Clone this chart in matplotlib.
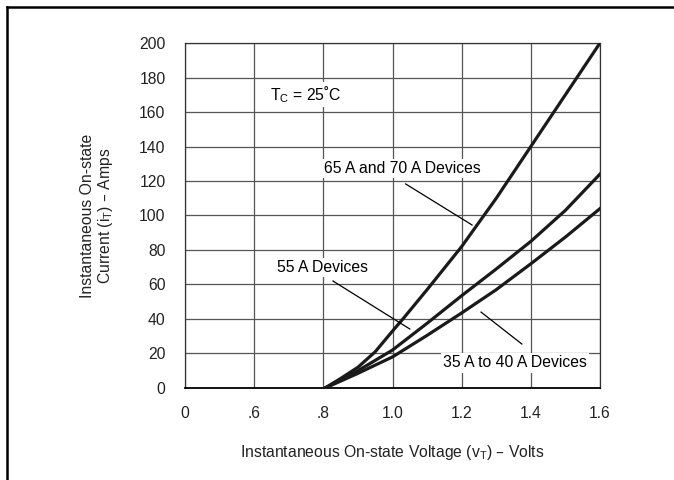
import matplotlib
matplotlib.use("Agg")
import matplotlib.pyplot as plt
import numpy as np

plt.rcParams['font.family'] = ['Liberation Sans', 'DejaVu Sans']

# on-state voltage (V) and current (A)
v_65_70 = [0.805, 0.85, 0.9, 0.95, 1.0, 1.03, 1.1, 1.2, 1.3, 1.4, 1.5, 1.6]
i_65_70 = [0, 5.5, 12, 21, 33, 40, 57, 82, 110, 140, 170, 200]
v_55 = [0.805, 0.85, 0.9, 1.0, 1.1, 1.2, 1.3, 1.4, 1.5, 1.6]
i_55 = [0, 4.5, 10, 22, 37.5, 53.5, 69, 85, 103, 124]
v_35_40 = [0.805, 0.85, 0.9, 1.0, 1.1, 1.2, 1.3, 1.4, 1.5, 1.6]
i_35_40 = [0, 4, 8.5, 18, 30.5, 43.5, 57, 72, 87.5, 104]

x_ticks = [0, 0.6, 0.8, 1.0, 1.2, 1.4, 1.6]
x_ticklabels = ['0', '.6', '.8', '1.0', '1.2', '1.4', '1.6']
y_ticks = list(range(0, 201, 20))


# broken axis: 0 -> .6 takes the same width as one .2 step
def fwd(v):
    v = np.asarray(v, dtype=float)
    return np.where(v < 0.6, v / 0.6, (v - 0.4) / 0.2)


def inv(p):
    p = np.asarray(p, dtype=float)
    return np.where(p < 1, p * 0.6, 0.2 * p + 0.4)


fs = 11.3
fig = plt.figure(figsize=(6.74, 4.8), dpi=100)
ax = fig.add_axes([0.2745, 0.1917, 0.6157, 0.7187])
ax.set_xscale('function', functions=(fwd, inv))

for xs, ys in ((v_65_70, i_65_70), (v_55, i_55), (v_35_40, i_35_40)):
    ax.plot(xs, ys, color='#1a1a1a', lw=2.3, solid_joinstyle='round', zorder=3)

ax.set_xlim(0, 1.6)
ax.set_ylim(0, 200)
ax.set_xticks(x_ticks)
ax.set_xticklabels(x_ticklabels)
ax.set_yticks(y_ticks)
ax.tick_params(length=0, labelsize=fs, colors='#222222')
ax.tick_params(axis='x', pad=13)
ax.tick_params(axis='y', pad=14)
ax.grid(True, color='#555555', lw=0.9)
for s in ax.spines.values():
    s.set_color('#333333')
    s.set_linewidth(0.9)
ax.spines['bottom'].set_color('#000000')
ax.spines['bottom'].set_linewidth(1.3)

box = dict(facecolor='white', edgecolor='none', pad=1.5)
ax.text(0.748, 170, r'T$_\mathregular{C}$ = 25˚C', fontsize=fs, ha='center', va='center', bbox=box, zorder=4)
ax.text(1.028, 127.5, '65 A and 70 A Devices', fontsize=fs, ha='center', va='center', bbox=box, zorder=4)
ax.text(0.798, 69.6, '55 A Devices', fontsize=fs, ha='center', va='center', bbox=box, zorder=4)
ax.text(1.354, 14.5, '35 A to 40 A Devices', fontsize=fs, ha='center', va='center', bbox=box, zorder=4)

ax.plot([1.038, 1.23], [118.3, 94.5], color='black', lw=0.9, zorder=5)
ax.plot([0.828, 1.05], [62, 34.2], color='black', lw=0.9, zorder=5)
ax.plot([1.256, 1.374], [44, 25.5], color='black', lw=0.9, zorder=5)

ax.set_xlabel(r'Instantaneous On-state Voltage (v$_\mathregular{T}$) – Volts', fontsize=fs,
              labelpad=16, color='#222222')
ax.set_ylabel('Instantaneous On-state\n' + r'Current (i$_\mathregular{T}$) – Amps', fontsize=fs,
              labelpad=17, color='#222222', linespacing=1.1)

# outer frame: only top and left edges show in the picture
fig.add_artist(plt.Line2D([0.0105, 0.0105], [0, 0.985], transform=fig.transFigure, color='black', lw=1.8))
fig.add_artist(plt.Line2D([0.0105, 1.0], [0.985, 0.985], transform=fig.transFigure, color='black', lw=1.8))

fig.savefig('out.png', dpi=100)
